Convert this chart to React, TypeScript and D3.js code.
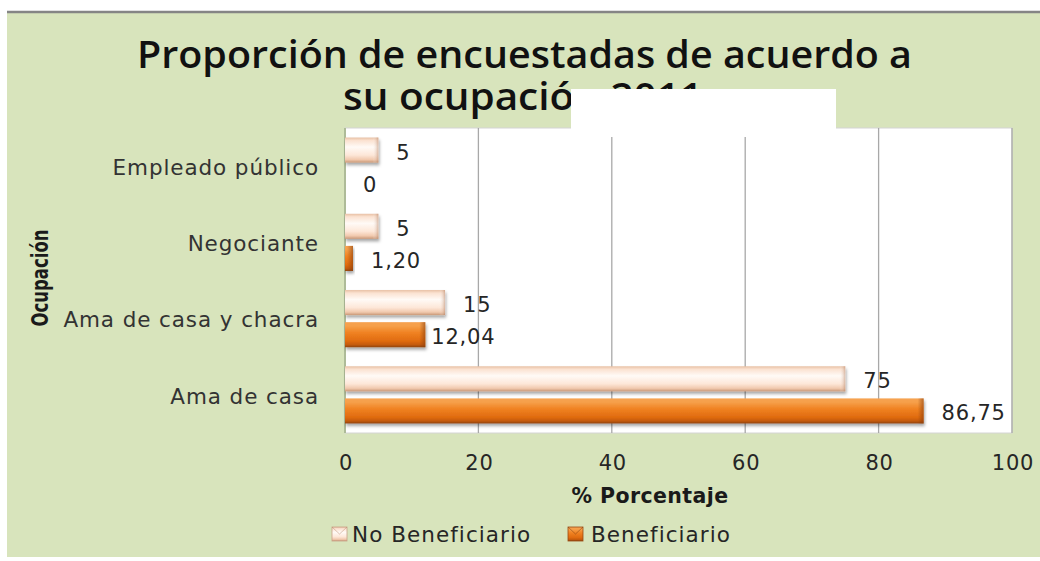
import React from "react";
import * as d3 from "d3";

const categories = ["Empleado público", "Negociante", "Ama de casa y chacra", "Ama de casa"];
const seriesNames = ["No Beneficiario", "Beneficiario"];
const noBeneficiario = [5, 5, 15, 75];
const beneficiario = [0, 1.2, 12.04, 86.75];
const valueLabelsNoBen = ["5", "5", "15", "75"];
const valueLabelsBen = ["0", "1,20", "12,04", "86,75"];
const xTicks = [0, 20, 40, 60, 80, 100];
const titleLine1 = "Proporción de encuestadas de acuerdo a";
const titleLine2 = "su ocupación 2011";
const xAxisTitle = "% Porcentaje";
const yAxisTitle = "Ocupación";

const W = 1040;
const H = 561;
const plot = { left: 345, right: 1012, top: 128, bottom: 433 };
// label gap overrides (style only)
const labelGapOverride: Record<string, number> = { "12,04": 6 };

export default function App() {
  const x = d3.scaleLinear().domain([0, 100]).range([plot.left, plot.right]);
  const y = d3
    .scaleBand<string>()
    .domain(categories)
    .range([plot.top, plot.bottom])
    .paddingInner(0.25)
    .paddingOuter(0.125);
  const inner = d3
    .scaleBand<string>()
    .domain(seriesNames)
    .range([0, y.bandwidth()])
    .paddingInner(0.22);

  const series = [
    { name: seriesNames[0], values: noBeneficiario, labels: valueLabelsNoBen, grad: "url(#gPeach)" },
    { name: seriesNames[1], values: beneficiario, labels: valueLabelsBen, grad: "url(#gOrange)" },
  ];

  const font = "'DejaVu Sans', Verdana, sans-serif";
  const titleFont = "'Open Sans', 'Noto Sans', sans-serif";
  const textColor = "#262626";

  return (
    <div style={{ position: "absolute", left: 0, top: 0 }}>
      <svg width={W} height={H} style={{ display: "block" }}>
        <defs>
          <linearGradient id="gPeach" x1="0" y1="0" x2="0" y2="1">
            <stop offset="0" stopColor="#e8c0a4" />
            <stop offset="0.12" stopColor="#fbe2d1" />
            <stop offset="0.38" stopColor="#fffaf6" />
            <stop offset="0.7" stopColor="#fde7d8" />
            <stop offset="0.88" stopColor="#f1c9ae" />
            <stop offset="1" stopColor="#c99877" />
          </linearGradient>
          <linearGradient id="gOrange" x1="0" y1="0" x2="0" y2="1">
            <stop offset="0" stopColor="#f6a251" />
            <stop offset="0.15" stopColor="#f6a04a" />
            <stop offset="0.42" stopColor="#f08222" />
            <stop offset="0.75" stopColor="#e06b0f" />
            <stop offset="0.9" stopColor="#c45a0c" />
            <stop offset="1" stopColor="#8f4412" />
          </linearGradient>
          <linearGradient id="gEndPeach" x1="0" y1="0" x2="1" y2="0">
            <stop offset="0" stopColor="#ffffff" stopOpacity="0" />
            <stop offset="1" stopColor="#b98566" stopOpacity="0.55" />
          </linearGradient>
          <linearGradient id="gEndOrange" x1="0" y1="0" x2="1" y2="0">
            <stop offset="0" stopColor="#8a3e0c" stopOpacity="0" />
            <stop offset="1" stopColor="#8a3e0c" stopOpacity="0.6" />
          </linearGradient>
          <filter id="shadow" x="-10%" y="-30%" width="130%" height="180%">
            <feDropShadow dx="1" dy="2.5" stdDeviation="1.8" floodColor="#000" floodOpacity="0.35" />
          </filter>
        </defs>

        {/* background */}
        <rect x={7} y={12} width={W - 7} height={545} fill="#d8e4bc" />
        <line x1={7} x2={W} y1={12} y2={12} stroke="#858585" strokeWidth={2.5} />

        {/* plot area */}
        <rect
          x={plot.left}
          y={plot.top}
          width={plot.right - plot.left}
          height={plot.bottom - plot.top}
          fill="#ffffff"
          stroke="#d4d4d4"
          strokeWidth={1}
        />
        {xTicks.slice(1).map((t) => (
          <line
            key={"g" + t}
            x1={x(t)}
            x2={x(t)}
            y1={plot.top}
            y2={plot.bottom}
            stroke="#a8a8a8"
            strokeWidth={1.3}
          />
        ))}
        <line x1={plot.left} x2={plot.left} y1={plot.top} y2={plot.bottom} stroke="#aebb98" strokeWidth={2} />

        {/* bars */}
        {series.map((s, si) =>
          categories.map((c, ci) => {
            const v = s.values[ci];
            const by = (y(c) ?? 0) + (inner(s.name) ?? 0);
            const bh = inner.bandwidth();
            const bw = x(v) - x(0);
            const lbl = s.labels[ci];
            const gap = labelGapOverride[lbl] ?? 18;
            return (
              <g key={s.name + c}>
                {v > 0 && (
                  <g filter="url(#shadow)">
                    <rect x={x(0)} y={by} width={bw} height={bh} fill={s.grad} />
                    <rect
                      x={x(0) + Math.max(bw - 6, 0)}
                      y={by}
                      width={Math.min(6, bw)}
                      height={bh}
                      fill={si === 0 ? "url(#gEndPeach)" : "url(#gEndOrange)"}
                    />
                  </g>
                )}
                <text
                  x={x(v) + gap}
                  y={by + bh / 2 + 2}
                  dy="0.36em"
                  fontFamily={font}
                  fontSize={21}
                  letterSpacing={0.8}
                  fill={textColor}
                >
                  {lbl}
                </text>
              </g>
            );
          })
        )}

        {/* category labels */}
        {categories.map((c) => (
          <text
            key={"c" + c}
            x={319}
            y={(y(c) ?? 0) + y.bandwidth() / 2 + 1}
            dy="0.36em"
            textAnchor="end"
            fontFamily={font}
            fontSize={21.5}
            letterSpacing={0.9}
            fill="#333333"
          >
            {c}
          </text>
        ))}

        {/* x tick labels */}
        {xTicks.map((t) => (
          <text
            key={"t" + t}
            x={x(t) + 1}
            y={462}
            dy="0.36em"
            textAnchor="middle"
            fontFamily={font}
            fontSize={21}
            letterSpacing={0.8}
            fill={textColor}
          >
            {d3.format("d")(t)}
          </text>
        ))}

        {/* axis titles */}
        <text
          x={650}
          y={503}
          textAnchor="middle"
          fontFamily={font}
          fontWeight="bold"
          fontSize={20.5}
          letterSpacing={0.4}
          fill="#1a1a1a"
        >
          {xAxisTitle}
        </text>
        <text
          transform="translate(48,278) rotate(-90)"
          textAnchor="middle"
          fontFamily={font}
          fontWeight="bold"
          fontSize={23}
          textLength={97}
          lengthAdjust="spacingAndGlyphs"
          fill="#1a1a1a"
        >
          {yAxisTitle}
        </text>

        {/* legend */}
        {series.map((s, si) => {
          const lx = si === 0 ? 332 : 568;
          const tx = si === 0 ? 352 : 591;
          return (
            <g key={"l" + s.name}>
              <rect x={lx} y={527} width={15} height={14} fill={s.grad} stroke={si === 0 ? "#c9a087" : "#9a4a12"} strokeWidth={0.8} />
              <path
                d={`M${lx} ${527} L${lx + 7.5} ${534} L${lx + 15} ${527}`}
                fill="none"
                stroke={si === 0 ? "#b88a6e" : "#7a3a10"}
                strokeWidth={0.8}
                opacity={0.6}
              />
              <text
                x={tx}
                y={534}
                dy="0.36em"
                fontFamily={font}
                fontSize={21.5}
                letterSpacing={1.05}
                fill={textColor}
              >
                {s.name}
              </text>
            </g>
          );
        })}

        {/* title (two lines in one text element) */}
        <text fontFamily={titleFont} fontWeight={600} fontSize={38} fill="#111111">
          <tspan x={524.5} y={68} textAnchor="middle" textLength={775} lengthAdjust="spacingAndGlyphs">
            {titleLine1}
          </tspan>
          <tspan x={343} y={110} textLength={360} lengthAdjust="spacingAndGlyphs">
            {titleLine2}
          </tspan>
        </text>
        {/* white patch covering part of the title */}
        <rect x={571} y={89} width={265} height={48} fill="#ffffff" />
      </svg>
    </div>
  );
}
